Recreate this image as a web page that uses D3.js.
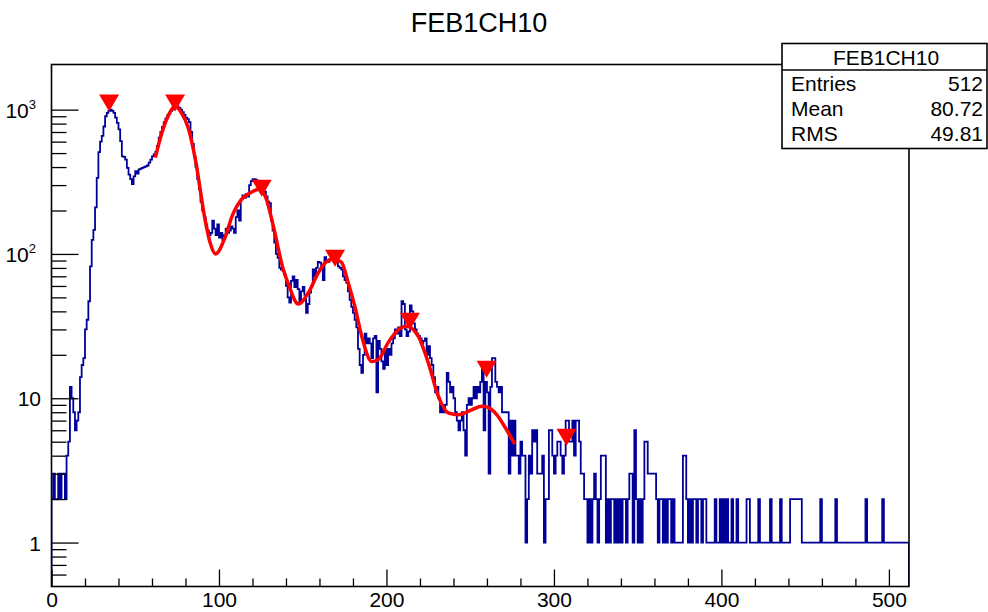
<!DOCTYPE html>
<html>
<head>
<meta charset="utf-8">
<script src="https://cdn.jsdelivr.net/npm/d3@7"></script>
<style>
  body { margin: 0; background: #fff; }
  text { font-family: "Liberation Sans", Arial, Helvetica, sans-serif; }
</style>
</head>
<body>
<svg id="chart" width="988" height="612"></svg>
<script>
// histogram title and stats box
const histTitle = "FEB1CH10";
const statLabels = ["Entries", "Mean", "RMS"];
const statValues = ["512", "80.72", "49.81"];

// bin contents, 512 bins of width 1
const counts = [
  2,3,2,2,3,2,3,3,2,4,
  5,12,10,8,6,7,8,14,17,19,
  30,35,47,82,125,147,210,337,507,600,
  657,764,900,950,980,1000,980,950,880,810,
  730,605,475,470,450,395,355,330,305,345,
  375,360,385,390,395,400,405,410,430,450,
  475,490,510,560,640,700,760,820,870,910,
  940,980,1000,1030,1050,1050,1030,1000,960,920,
  880,860,820,700,580,470,400,330,280,230,
  200,180,160,145,135,140,170,150,135,160,
  130,140,125,135,150,140,145,155,150,140,
  180,200,170,240,255,245,260,250,300,320,
  330,330,325,320,315,300,290,270,250,230,
  225,170,145,120,100,94,80,78,76,72,
  60,50,46,65,70,59,66,57,46,55,
  59,52,39,45,54,60,78,70,80,88,
  87,82,66,95,90,88,92,96,96,90,
  88,82,80,78,70,66,63,55,48,43,
  39,35,31,22,17,15,20,28,24,26,
  24,19,26,27,11,25,22,18,16,22,
  17,22,20,24,26,30,28,31,27,47,
  45,30,27,29,44,40,33,30,28,27,
  26,24,25,26,20,23,19,17,14,11,
  12,10,8,9,8,9,15,13,11,12,
  10,8,7,6,7,8,6,4,9,10,
  9,10,12,10,12,11,13,16,6,13,
  11,3,12,19,19,13,12,11,12,8,
  8,8,8,3,7,4,7,4,4,3,
  5,4,4,1,2,4,3,6,5,6,
  3,3,3,4,1,2,2,6,6,4,
  3,4,5,5,4,3,4,7,7,5,
  5,7,4,7,7,5,3,3,2,2,
  1,2,1,2,3,2,1,2,4,4,
  4,1,2,1,2,2,1,2,1,2,
  1,2,2,1,2,3,3,1,6,2,
  1,2,1,2,5,5,3,3,3,3,
  3,2,1,2,2,1,2,1,2,2,
  1,2,1,1,1,1,1,4,4,2,
  1,2,1,2,2,1,2,2,1,2,
  2,1,1,1,1,1,2,1,1,2,
  1,2,1,2,1,1,2,1,1,2,
  1,1,1,1,1,2,2,1,1,1,
  1,1,2,1,1,1,1,1,1,2,
  1,1,1,1,1,2,1,1,1,1,
  1,2,2,2,2,2,2,2,1,1,
  1,1,1,1,1,1,1,1,1,2,
  1,1,1,1,1,1,1,1,2,1,
  1,1,1,1,1,1,1,1,1,1,
  1,1,1,1,1,1,2,1,1,1,
  1,1,1,1,1,1,2,1,1,1,
  1,1,1,1,1,1,1,1,1,1,1,1
];

// found peaks (marker positions)
const peakX = [34.4, 73.8, 125.5, 169.3, 214, 259.8, 307.5];
const peakY = [1120, 1120, 288, 94, 34.5, 16, 5.4];

// fitted curve
const fitX = [62, 65.6, 69.6, 73.6, 77.6, 81.6, 86, 91.5, 94.5, 98, 103.5, 108, 113.4, 118, 124, 128,
  132.5, 138.4, 141.4, 147.4, 153.4, 159.3, 164, 168, 173, 177.2, 181.2, 185.2, 191.2, 195,
  201, 207, 212, 219, 225, 231, 237, 243, 250.8, 257, 261, 265.8, 271.7, 276.7];
const fitY = [465, 672, 900, 1056, 950, 748, 445, 178, 122, 100, 129, 185, 238, 262, 281, 245,
  155, 78, 62, 45, 54, 74, 88, 92, 88, 63, 43, 27, 18, 18.5,
  24.3, 29.8, 31.5, 26.8, 17.6, 10.3, 7.9, 7.7, 8.3, 8.8, 8.6, 7.7, 6.05, 4.8];

const xMajor = [0, 100, 200, 300, 400, 500];
const yMajor = [1, 10, 100, 1000];

const svg = d3.select("#chart");
const W = 988, H = 612;
const frame = { left: 51.5, right: 909, top: 64.5, bottom: 586.5 };

const x = d3.scaleLinear().domain([0, 512]).range([frame.left, frame.right]);
const y = d3.scaleLog().domain([0.496, 2055]).range([frame.bottom, frame.top]);

svg.append("rect").attr("width", W).attr("height", H).attr("fill", "#fff");

// clip to frame
svg.append("clipPath").attr("id", "clipFrame")
  .append("rect")
  .attr("x", frame.left).attr("y", frame.top)
  .attr("width", frame.right - frame.left).attr("height", frame.bottom - frame.top);

const plot = svg.append("g").attr("clip-path", "url(#clipFrame)");

// histogram outline
const histPts = [[0, 0.3]];
counts.forEach((c, i) => { histPts.push([i, c]); histPts.push([i + 1, c]); });
histPts.push([512, 0.3]);
const histLine = d3.line()
  .x(d => x(d[0]))
  .y(d => Math.min(y(Math.max(d[1], 0.3)), frame.bottom + 2));
plot.append("path")
  .attr("d", histLine(histPts))
  .attr("fill", "none")
  .attr("stroke", "#000099")
  .attr("stroke-width", 1.8);

// fit
const fitLine = d3.line()
  .x((d, i) => x(fitX[i]))
  .y((d, i) => y(fitY[i]))
  .curve(d3.curveMonotoneX);
plot.append("path")
  .attr("d", fitLine(fitX))
  .attr("fill", "none")
  .attr("stroke", "#ff0000")
  .attr("stroke-width", 3.5)
  .attr("stroke-linejoin", "round");

// peak markers (inverted triangles)
plot.selectAll(".peak")
  .data(peakX)
  .enter()
  .append("path")
  .attr("class", "peak")
  .attr("transform", (d, i) => `translate(${x(d)},${y(peakY[i])})`)
  .attr("d", "M-10,-8L10,-8L0,9Z")
  .attr("fill", "#ff0000");

// axes: ROOT style, ticks inside the frame
const xMinor = d3.range(0, 512, 20).filter(v => v % 100 !== 0);
svg.append("g")
  .attr("transform", `translate(0,${frame.bottom})`)
  .call(d3.axisBottom(x).tickValues(xMinor).tickSize(-8).tickFormat(""))
  .call(g => g.select(".domain").remove());
svg.append("g")
  .attr("transform", `translate(0,${frame.bottom})`)
  .call(d3.axisBottom(x).tickValues(xMajor).tickSize(-17))
  .call(g => g.select(".domain").remove())
  .call(g => g.selectAll("text")
    .attr("y", 6)
    .attr("font-size", 21)
    .attr("font-family", "Liberation Sans, Arial, sans-serif")
    .attr("fill", "#000"));

const yMinor = [];
[-1, 0, 1, 2, 3].forEach(e => {
  for (let m = 2; m <= 9; m++) {
    const v = m * Math.pow(10, e);
    if (v > 0.52 && v < 1950) yMinor.push(v);
  }
});
svg.append("g")
  .attr("transform", `translate(${frame.left},0)`)
  .call(d3.axisLeft(y).tickValues(yMinor).tickSize(-15).tickFormat(""))
  .call(g => g.select(".domain").remove());
svg.append("g")
  .attr("transform", `translate(${frame.left},0)`)
  .call(d3.axisLeft(y).tickValues(yMajor).tickSize(-27).tickFormat(""))
  .call(g => g.select(".domain").remove());

svg.selectAll(".tick line").attr("stroke", "#000").attr("stroke-width", 1.3);

// y labels with superscript exponents
const yLab = svg.append("g").attr("font-size", 21).attr("text-anchor", "end");
yMajor.forEach(v => {
  const e = Math.round(Math.log10(v));
  const t = yLab.append("text").attr("y", y(v) + 8);
  if (e >= 2) {
    t.attr("x", 36);
    t.append("tspan").text("10");
    t.append("tspan").attr("dy", -9).attr("font-size", 13).text(String(e));
  } else {
    t.attr("x", 41).text(String(v));
  }
});

// frame
svg.append("rect")
  .attr("x", frame.left).attr("y", frame.top)
  .attr("width", frame.right - frame.left).attr("height", frame.bottom - frame.top)
  .attr("fill", "none").attr("stroke", "#000").attr("stroke-width", 1.6);

// title
svg.append("text")
  .attr("x", 479).attr("y", 32)
  .attr("text-anchor", "middle")
  .attr("font-size", 27)
  .text(histTitle);

// stats box
const box = { x: 782, y: 43.5, w: 205, h: 105, head: 26.5 };
const stats = svg.append("g");
stats.append("rect")
  .attr("x", box.x).attr("y", box.y).attr("width", box.w).attr("height", box.h)
  .attr("fill", "#fff").attr("stroke", "#000").attr("stroke-width", 1.6);
stats.append("line")
  .attr("x1", box.x).attr("x2", box.x + box.w)
  .attr("y1", box.y + box.head).attr("y2", box.y + box.head)
  .attr("stroke", "#000").attr("stroke-width", 1.4);
stats.append("text")
  .attr("x", 886).attr("y", box.y + 21)
  .attr("text-anchor", "middle").attr("font-size", 21)
  .text(histTitle);
statLabels.forEach((s, i) => {
  stats.append("text").attr("x", 791).attr("y", 91 + i * 25)
    .attr("font-size", 21).text(s);
  stats.append("text").attr("x", 983).attr("y", 91 + i * 25)
    .attr("text-anchor", "end").attr("font-size", 21).text(statValues[i]);
});
</script>
</body>
</html>
